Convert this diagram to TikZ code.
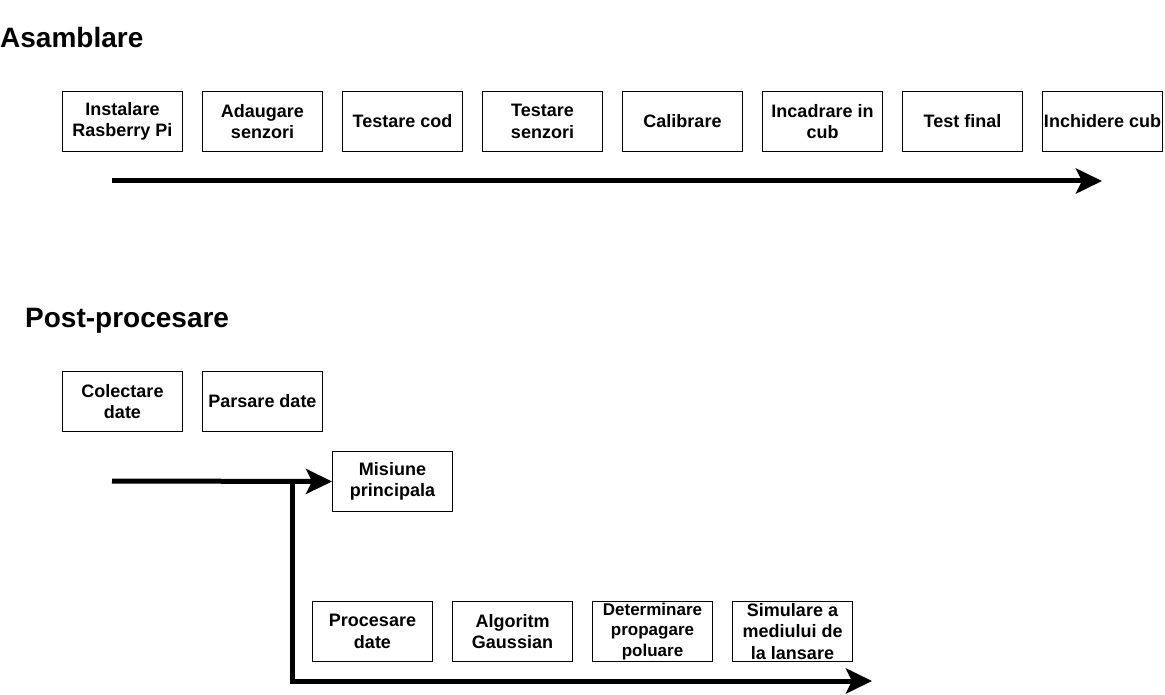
\documentclass[tikz,border=0pt]{standalone}
\usepackage{fontspec}
\setmainfont{Liberation Sans}
\usetikzlibrary{arrows.meta}
\begin{document}
\begin{tikzpicture}[x=1pt,y=-1pt,
  stepbox/.style={draw=black,line width=1pt,minimum width=120pt,minimum height=60pt,
    inner sep=0pt,anchor=north west,align=center,
    font=\bfseries\fontsize{18}{21.6}\selectfont},
  smalltext/.style={font=\bfseries\fontsize{17}{20.5}\selectfont},
  heading/.style={anchor=base west,inner sep=0pt,font=\bfseries\fontsize{28}{33}\selectfont},
  timeline/.style={line width=5pt,-{Stealth[length=26pt,width=25pt,inset=6pt]}},
  rail/.style={line width=5pt}]
\useasboundingbox (0,0) rectangle (1165,695);

% Assembly phase
\node[heading] (t1) at (0,47.5) {Asamblare};
\node[stepbox] (a1) at (62,91) {Instalare\\Rasberry Pi};
\node[stepbox] (a2) at (202,91) {Adaugare\\senzori};
\node[stepbox] (a3) at (342,91) {Testare cod};
\node[stepbox] (a4) at (482,91) {Testare\\senzori};
\node[stepbox] (a5) at (622,91) {Calibrare};
\node[stepbox] (a6) at (762,91) {Incadrare in\\cub};
\node[stepbox] (a7) at (902,91) {Test final};
\node[stepbox] (a8) at (1042,91) {Inchidere cub};
\coordinate (s1) at (112,181);
\coordinate (e1) at (1102,181);
\draw[timeline] (s1) -- (e1);

% Post-processing phase
\node[heading] (t2) at (25,327) {Post-procesare};
\node[stepbox] (p1) at (62,371) {Colectare\\date};
\node[stepbox] (p2) at (202,371) {Parsare date};
\node[stepbox] (m) at (332,451) {Misiune\\principala};
\node[stepbox] (q1) at (312,601) {Procesare\\date};
\node[stepbox] (q2) at (452,601) {Algoritm\\Gaussian};
\node[stepbox,smalltext] (q3) at (592,601) {Determinare\\propagare\\poluare};
\node[stepbox] (q4) at (732,601) {Simulare a\\mediului de\\la lansare};

\coordinate (s2) at (112,481);
\coordinate (j) at (292,481);
\coordinate (c) at (292,681);
\coordinate (e2) at (872,681);
\draw[timeline] (s2) -- (m.west);
\draw[rail,-{Stealth[length=26pt,width=25pt,inset=6pt]}] (j) -- (c) -- (e2);
\end{tikzpicture}
\end{document}
